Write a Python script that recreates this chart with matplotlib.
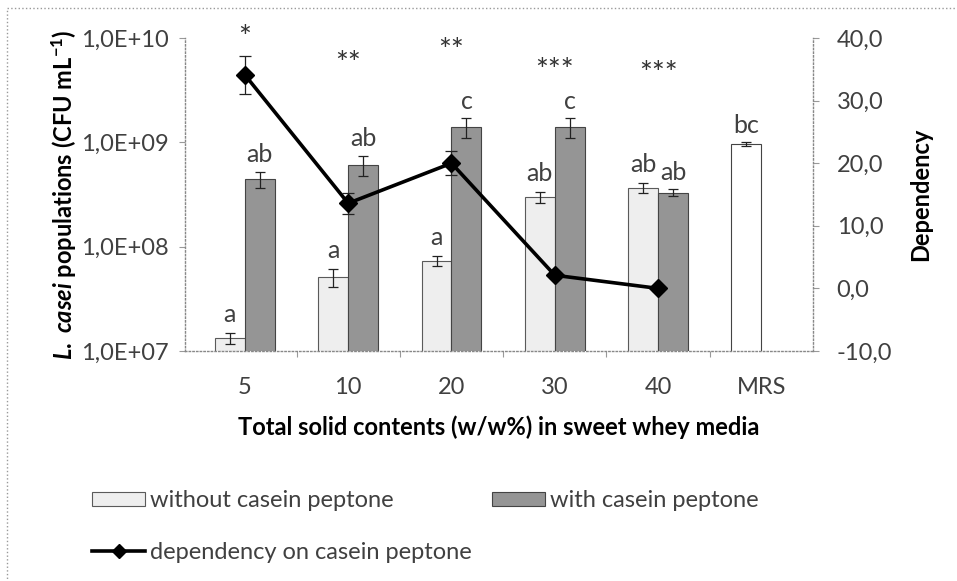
import matplotlib
matplotlib.use("Agg")
import matplotlib.pyplot as plt
import numpy as np
from matplotlib.patches import Rectangle, Patch
from matplotlib.lines import Line2D

plt.rcParams['font.family'] = ['Lato', 'DejaVu Sans']
plt.rcParams['mathtext.fontset'] = 'custom'
plt.rcParams['mathtext.rm'] = 'Lato:bold'
plt.rcParams['mathtext.it'] = 'Lato:italic:bold'
plt.rcParams['mathtext.bf'] = 'Lato:bold'

categories = ['5', '10', '20', '30', '40', 'MRS']
without_cp = [1.33e7, 5.1e7, 7.3e7, 3.0e8, 3.65e8]
without_cp_err = [0.15e7, 1.0e7, 0.8e7, 0.35e8, 0.4e8]
with_cp = [4.45e8, 6.1e8, 1.4e9, 1.4e9, 3.3e8]
with_cp_err = [0.8e8, 1.3e8, 0.3e9, 0.3e9, 0.25e8]
mrs = 9.6e8
mrs_err = 0.04e9
dependency = [34.1, 13.6, 20.0, 2.1, 0.0]
dependency_err = [3.1, 1.7, 1.9, 0.4, 0.4]
letters_without = ['a', 'a', 'a', 'ab', 'ab']
letters_with = ['ab', 'ab', 'c', 'c', 'ab']
letter_mrs = 'bc'
stars = ['*', '**', '**', '***', '***']

left_ticks = [1e7, 1e8, 1e9, 1e10]
left_labels = ['1,0E+07', '1,0E+08', '1,0E+09', '1,0E+10']
right_ticks = [-10, 0, 10, 20, 30, 40]
right_labels = ['-10,0', '0,0', '10,0', '20,0', '30,0', '40,0']

W, H = 957, 581
FS = 17
fig = plt.figure(figsize=(W / 100, H / 100), dpi=100)
ax = fig.add_axes([185 / W, 1 - 351 / H, (813 - 185) / W, (351 - 38) / H])
AW = 813 - 185

x = np.arange(len(without_cp))
bw = 0.29
grey = '#404040'
ekw = dict(ecolor='#222222', lw=0.9, capsize=3.5, capthick=0.9)
ax.bar(x - bw / 2, without_cp, bw, color='#eeeeee', edgecolor='#5a5a5a', lw=0.8,
       yerr=without_cp_err, error_kw=ekw)
ax.bar(x + bw / 2, with_cp, bw, color='#959595', edgecolor='#444444', lw=0.8,
       yerr=with_cp_err, error_kw=ekw)
ax.bar([5 - bw / 2], [mrs], bw, color='white', edgecolor='#444444', lw=0.8,
       yerr=[mrs_err], error_kw=ekw)

ax.set_yscale('log')
ax.set_ylim(1e7, 1e10)
ax.set_xlim(-0.58, 5.5)
ax.set_yticks(left_ticks)
ax.set_yticklabels(left_labels)
ax.yaxis.set_minor_locator(matplotlib.ticker.NullLocator())
ax.set_xticks(np.arange(6))
ax.set_xticklabels(categories)
ax.set_xticks(np.arange(0.5, 5, 1), minor=True)
ax.tick_params(axis='x', which='major', length=0, pad=19, labelsize=FS, labelcolor=grey)
ax.tick_params(axis='x', which='minor', length=4, color='#999999', width=0.8)
ax.tick_params(axis='y', length=4, color='#999999', width=0.8, labelsize=FS, labelcolor=grey, pad=8)
for side in ['top', 'right']:
    ax.spines[side].set_visible(False)
for side in ['left', 'bottom']:
    ax.spines[side].set_linestyle(':')
    ax.spines[side].set_color('#888888')
    ax.spines[side].set_linewidth(1.0)

for i in range(len(without_cp)):
    ax.annotate(letters_without[i], (x[i] - bw / 2, without_cp[i] + without_cp_err[i]),
                xytext=(0, 5), textcoords='offset points', ha='center', va='bottom',
                fontsize=18, color=grey)
    ax.annotate(letters_with[i], (x[i] + bw / 2, with_cp[i] + with_cp_err[i]),
                xytext=(0, 4), textcoords='offset points', ha='center', va='bottom',
                fontsize=18, color=grey)
ax.annotate(letter_mrs, (5 - bw / 2, mrs + mrs_err), xytext=(0, 4), textcoords='offset points',
            ha='center', va='bottom', fontsize=18, color=grey)

ax2 = ax.twinx()
ax2.errorbar(x, dependency, yerr=dependency_err, color='black', lw=2.6, marker='D',
             markersize=9, ecolor='#222222', elinewidth=0.9, capsize=4, capthick=0.9, zorder=5)
ax2.set_ylim(-10, 40)
ax2.set_yticks(right_ticks)
ax2.set_yticklabels(right_labels)
ax2.tick_params(axis='y', length=4, color='#999999', width=0.8, labelsize=FS, labelcolor=grey, pad=13)
for side in ['top', 'left', 'bottom']:
    ax2.spines[side].set_visible(False)
ax2.spines['right'].set_linestyle(':')
ax2.spines['right'].set_color('#888888')
ax2.spines['right'].set_linewidth(1.0)

star_levels = [40.0, 35.8, 37.9, 34.7, 34.2]
for i, s in enumerate(stars):
    ax2.text(x[i], star_levels[i], s, ha='center', va='center', fontsize=22,
             color='#333333', clip_on=False)

ax.set_ylabel(r'$\mathit{L.\ casei}$ populations (CFU mL$^{-1}$)', fontsize=FS,
              fontweight='bold')
ax.yaxis.set_label_coords((79 - 185) / AW, 0.5)
ax2.set_ylabel('Dependency', fontsize=FS, fontweight='bold')
ax2.yaxis.set_label_coords((909 - 185) / AW, 0.5)
fig.text(499 / W, 1 - 427 / H, 'Total solid contents (w/w%) in sweet whey media',
         ha='center', va='center', fontsize=FS, fontweight='bold')

handles = [
    Patch(facecolor='#eeeeee', edgecolor='#5a5a5a', lw=0.8),
    Line2D([], [], color='black', lw=2.6, marker='D', markersize=7),
    Patch(facecolor='#959595', edgecolor='#444444', lw=0.8),
]
labels = ['without casein peptone', 'dependency on casein peptone', 'with casein peptone']
fig.legend(handles, labels, ncol=2, loc='upper left', bbox_to_anchor=(92 / W, 1 - 490 / H),
           frameon=False, fontsize=FS, handlelength=2.25, handleheight=0.55,
           handletextpad=0.2, columnspacing=0.85, labelspacing=1.3, labelcolor=grey,
           borderpad=0, borderaxespad=0)

fig.add_artist(Rectangle((7 / W, -0.1), 1.2, 1 - 8 / H + 0.1, transform=fig.transFigure,
                         fill=False, ls=':', lw=1.0, edgecolor='#999999'))

fig.savefig('out.png', dpi=100)
